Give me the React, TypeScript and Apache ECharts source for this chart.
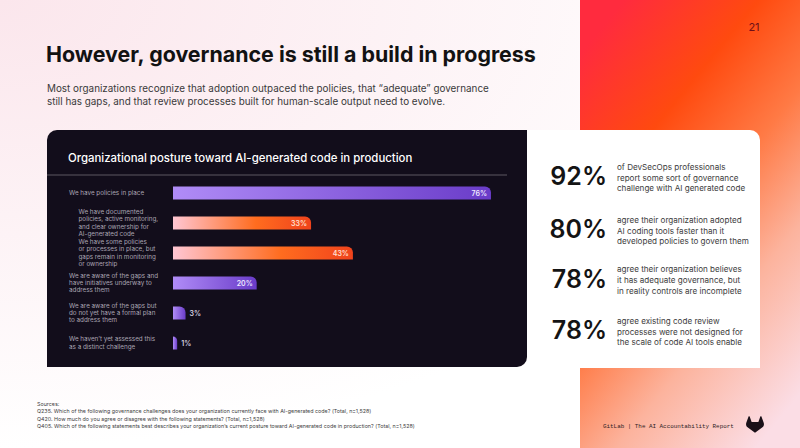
import React, { useEffect, useRef } from "react";
import * as echarts from "echarts";

// Survey rows, top to bottom
const categories = [
  "We have policies in place",
  "We have documented\npolicies, active monitoring,\nand clear ownership for\nAI-generated code",
  "We have some policies\nor processes in place, but\ngaps remain in monitoring\nor ownership",
  "We are aware of the gaps and\nhave initiatives underway to\naddress them",
  "We are aware of the gaps but\ndo not yet have a formal plan\nto address them",
  "We haven’t yet assessed this\nas a distinct challenge",
];
const values = [76, 33, 43, 20, 3, 1];
// rows that break down "We have policies in place"
const subRows = [1, 2];

const statValues = ["92%", "80%", "78%", "78%"];
const statTexts = [
  "of DevSecOps professionals\nreport some sort of governance\nchallenge with AI generated code",
  "agree their organization adopted\nAI coding tools faster than it\ndeveloped policies to govern them",
  "agree their organization believes\nit has adequate governance, but\nin reality controls are incomplete",
  "agree existing code review\nprocesses were not designed for\nthe scale of code AI tools enable",
];

const sources = [
  "Sources:",
  "Q235. Which of the following governance challenges does your organization currently face with AI-generated code? (Total, n=1,528)",
  "Q420. How much do you agree or disagree with the following statements? (Total, n=1,528)",
  "Q405. Which of the following statements best describes your organization’s current posture toward AI-generated code in production? (Total, n=1,528)",
];

const title = "However, governance is still a build in progress";
const subtitle =
  "Most organizations recognize that adoption outpaced the policies, that “adequate” governance\nstill has gaps, and that review processes built for human-scale output need to evolve.";
const chartTitle = "Organizational posture toward AI-generated code in production";
const footer = "GitLab | The AI Accountability Report";
const pageNumber = "21";

const FONT = "Inter, 'Noto Sans', sans-serif";

const tanukiPath =
  "M12 23 L1.6 15.4 C0.1 14.2 -0.3 11.8 0.4 9.6 L3.3 1.5 C3.5 0.8 4.5 0.6 4.9 1.4 L7.5 8.7 L16.5 8.7 L19.1 1.4 C19.5 0.6 20.5 0.8 20.7 1.5 L23.6 9.6 C24.3 11.8 23.9 14.2 22.4 15.4 Z";
echarts.graphic.registerShape("tanuki", echarts.graphic.extendPath(tanukiPath, {}) as any);

const purpleFill = {
  type: "linear",
  x: 0,
  y: 0,
  x2: 1,
  y2: 0,
  colorStops: [
    { offset: 0, color: "#b08cf7" },
    { offset: 1, color: "#6a3cc9" },
  ],
};
const orangeFill = {
  type: "linear",
  x: 0,
  y: 0,
  x2: 1,
  y2: 0,
  colorStops: [
    { offset: 0, color: "#ffc6d3" },
    { offset: 0.6, color: "#ff6c1f" },
    { offset: 1, color: "#f0431c" },
  ],
};

function buildOption() {
  const barData = values.map((v, i) => {
    const sub = subRows.includes(i);
    const small = v < 10;
    return {
      value: v,
      itemStyle: { color: sub ? orangeFill : purpleFill },
      label: {
        position: small ? "right" : "insideRight",
        distance: 4,
        color: small ? "#d9d3e2" : sub ? "#ffe1d4" : "#efe8ff",
      },
    };
  });

  const statGraphics: any[] = [];
  const statY = [175, 228, 277.5, 329];
  statValues.forEach((s, i) => {
    statGraphics.push({
      type: "text",
      x: 607,
      y: statY[i] + 1,
      z: 10,
      style: {
        text: s,
        fill: "#141414",
        font: `600 25px ${FONT}`,
        align: "right",
        verticalAlign: "middle",
      },
    });
    statGraphics.push({
      type: "text",
      x: 617,
      y: statY[i] + 2.5,
      z: 10,
      style: {
        text: statTexts[i],
        fill: "#3c3c3c",
        font: `400 8.1px ${FONT}`,
        lineHeight: 10.8,
        align: "left",
        verticalAlign: "middle",
      },
    });
  });

  const graphics: any[] = [
    // page background with soft pink corner
    {
      type: "rect",
      z: -20,
      shape: { x: 0, y: 0, width: 800, height: 448 },
      style: {
        fill: {
          type: "radial",
          x: 0,
          y: 0,
          r: 1,
          colorStops: [
            { offset: 0, color: "#fbe6ec" },
            { offset: 1, color: "#ffffff" },
          ],
        },
      },
    },
    // right accent panel
    {
      type: "rect",
      z: -20,
      shape: { x: 580, y: 0, width: 220, height: 448 },
      style: {
        fill: {
          type: "linear",
          x: 0.2,
          y: 0,
          x2: 0.8,
          y2: 1,
          colorStops: [
            { offset: 0, color: "#ff2b3e" },
            { offset: 0.27, color: "#ff4a0f" },
            { offset: 0.5, color: "#ff7a45" },
            { offset: 0.72, color: "#fcb39d" },
            { offset: 1, color: "#fbdde5" },
          ],
        },
      },
    },
    // white stats card
    {
      type: "rect",
      z: -10,
      shape: { x: 520, y: 130, width: 240, height: 238, r: [0, 10, 0, 0] },
      style: { fill: "#ffffff" },
    },
    // dark chart panel
    {
      type: "rect",
      z: -10,
      shape: { x: 47, y: 130, width: 480, height: 237, r: [10, 0, 10, 0] },
      style: { fill: "#120d1b" },
    },
    {
      type: "line",
      z: -5,
      shape: { x1: 47, y1: 175, x2: 507, y2: 175 },
      style: { stroke: "#5d5862", lineWidth: 1 },
    },
    {
      type: "text",
      x: 68,
      y: 158,
      z: 10,
      style: {
        text: chartTitle,
        fill: "#ffffff",
        font: `500 11.4px ${FONT}`,
        verticalAlign: "middle",
      },
    },
    // headline
    {
      type: "text",
      x: 46,
      y: 54,
      z: 10,
      style: {
        text: title,
        fill: "#121212",
        font: `700 21.4px ${FONT}`,
        verticalAlign: "middle",
      },
    },
    {
      type: "text",
      x: 47,
      y: 94.5,
      z: 10,
      style: {
        text: subtitle,
        fill: "#3a3a3a",
        font: `400 9.9px ${FONT}`,
        lineHeight: 12.8,
        verticalAlign: "middle",
      },
    },
    {
      type: "text",
      x: 754,
      y: 27,
      z: 10,
      style: {
        text: pageNumber,
        fill: "#6e0f18",
        font: `400 11px ${FONT}`,
        align: "center",
        verticalAlign: "middle",
      },
    },
    ...statGraphics,
    {
      type: "text",
      x: 37,
      y: 415,
      z: 10,
      style: {
        text: sources.join("\n"),
        fill: "#3e3e3e",
        font: `400 5.35px ${FONT}`,
        lineHeight: 7.3,
        verticalAlign: "middle",
      },
    },
    {
      type: "text",
      x: 603,
      y: 426,
      z: 10,
      style: {
        text: footer,
        fill: "#2e2224",
        font: `400 5.9px 'Liberation Mono', 'DejaVu Sans Mono', monospace`,
        verticalAlign: "middle",
      },
    },
    {
      type: "tanuki",
      x: 746,
      y: 415.5,
      z: 10,
      scaleX: 0.75,
      scaleY: 0.75,
      style: { fill: "#1a1018" },
    },
  ];

  return {
    animation: false,
    backgroundColor: "transparent",
    graphic: { elements: graphics },
    grid: { left: 173, top: 178, width: 334.7, height: 180, containLabel: false },
    xAxis: {
      type: "value",
      min: 0,
      max: 80,
      show: false,
    },
    yAxis: {
      type: "category",
      inverse: true,
      z: 10,
      data: categories,
      axisLine: { show: false },
      axisTick: { show: false },
      splitLine: { show: false },
      axisLabel: {
        interval: 0,
        align: "left",
        margin: 104,
        formatter: (value: string, index: number) => {
          const key = subRows.includes(index) ? "sub" : "main";
          return value
            .split("\n")
            .map((l) => `{${key}|${l}}`)
            .join("\n");
        },
        rich: {
          main: {
            fontSize: 6.3,
            lineHeight: 7.4,
            color: "#aba5b3",
            fontFamily: FONT,
          },
          sub: {
            fontSize: 6.3,
            lineHeight: 7.4,
            color: "#aba5b3",
            fontFamily: FONT,
            padding: [0, 0, 0, 9.5],
          },
        },
      },
    },
    series: [
      {
        type: "bar",
        z: 5,
        barWidth: 13,
        data: barData,
        itemStyle: { borderRadius: [0, 6, 0, 0] },
        label: {
          show: true,
          formatter: "{c}%",
          fontSize: 7,
          fontWeight: 600,
          fontFamily: FONT,
        },
      },
    ],
  };
}

export default function App() {
  const ref = useRef<HTMLDivElement>(null);
  useEffect(() => {
    if (!ref.current) return;
    const chart = echarts.init(ref.current, undefined, { renderer: "svg" });
    chart.setOption(buildOption() as any);
    return () => chart.dispose();
  }, []);
  return (
    <div
      ref={ref}
      style={{ position: "fixed", left: 0, top: 0, width: 800, height: 448, background: "#ffffff" }}
    />
  );
}
